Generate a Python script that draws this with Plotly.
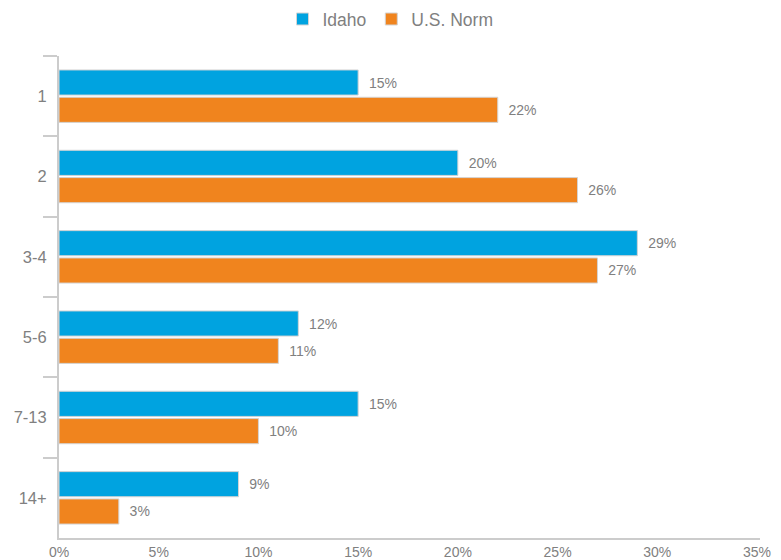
import plotly.graph_objects as go

categories = ["1", "2", "3-4", "5-6", "7-13", "14+"]
idaho = [15, 20, 29, 12, 15, 9]
us_norm = [22, 26, 27, 11, 10, 3]
x_ticks = [0, 5, 10, 15, 20, 25, 30, 35]
x_tick_labels = [f"{v}%" for v in x_ticks]

FONT = "Liberation Sans, Arial, sans-serif"
GREY = "#808080"
LINE = "#cccccc"


def pct_labels(values):
    return [f"\u00a0\u00a0{v}%" for v in values]


fig = go.Figure()
fig.add_trace(go.Bar(
    y=categories, x=idaho, orientation="h", name="Idaho",
    marker=dict(color="#00A3E0", line=dict(color="#d4d4d4", width=1)),
    text=pct_labels(idaho), textposition="outside",
    textfont=dict(family=FONT, size=14, color=GREY), cliponaxis=False,
))
fig.add_trace(go.Bar(
    y=categories, x=us_norm, orientation="h", name="U.S. Norm",
    marker=dict(color="#F0841E", line=dict(color="#d4d4d4", width=1)),
    text=pct_labels(us_norm), textposition="outside",
    textfont=dict(family=FONT, size=14, color=GREY), cliponaxis=False,
))

fig.update_layout(
    width=781, height=560,
    margin=dict(l=59, r=21, t=56, b=22),
    plot_bgcolor="white", paper_bgcolor="white",
    barmode="group", bargap=0.32, bargroupgap=0.08,
    font=dict(family=FONT, color=GREY),
    legend=dict(
        orientation="h", xref="container", x=0.5, xanchor="center",
        yref="container", y=0.998, yanchor="top",
        font=dict(family=FONT, size=17.5, color=GREY),
        traceorder="normal",
    ),
)

fig.update_xaxes(
    range=[0, 35.15], tickvals=x_ticks, ticktext=x_tick_labels,
    showgrid=False, zeroline=False, showline=True, linecolor=LINE, linewidth=2,
    ticks="", ticklabelstandoff=0,
    tickfont=dict(family=FONT, size=14, color=GREY), automargin=False,
)
fig.update_yaxes(
    categoryorder="array", categoryarray=categories, autorange="reversed",
    showgrid=False, zeroline=False, showline=True, linecolor=LINE, linewidth=2,
    ticks="outside", tickson="boundaries", ticklen=14, tickcolor=LINE, tickwidth=2,
    ticklabelstandoff=7,
    tickfont=dict(family=FONT, size=16.5, color=GREY), automargin=False,
)

fig.write_html("out.html")
